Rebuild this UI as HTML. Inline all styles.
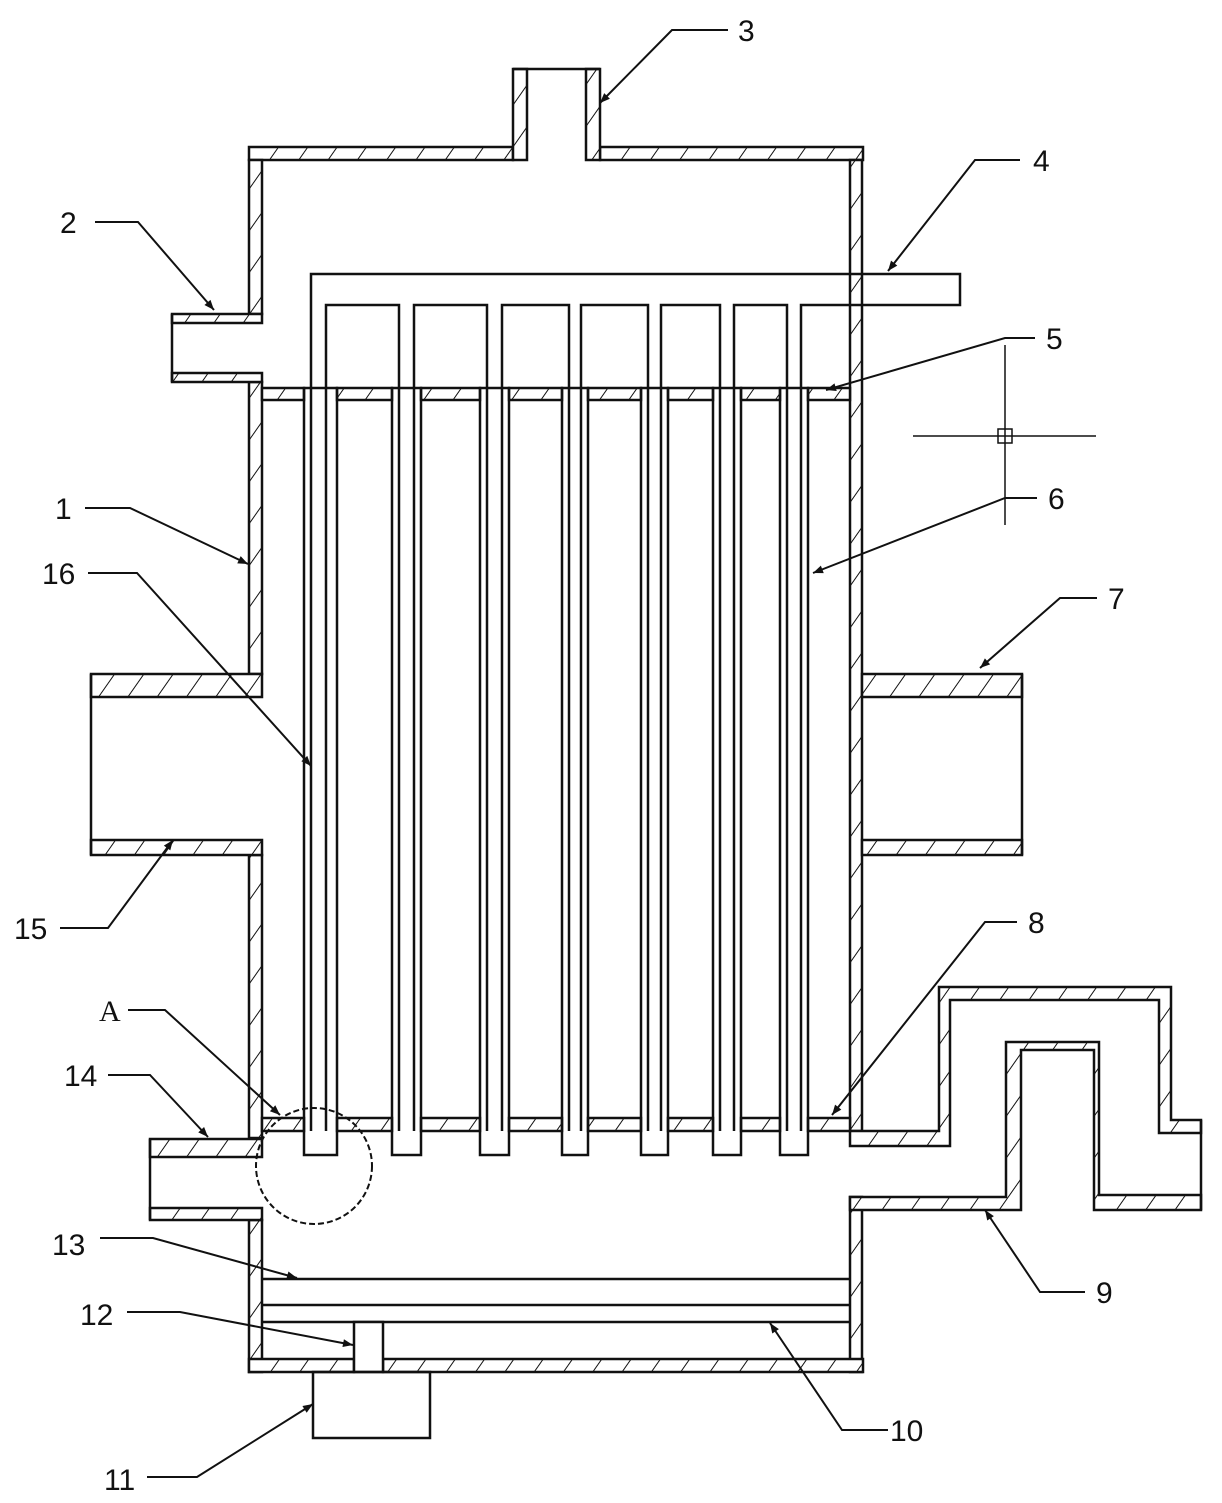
<!DOCTYPE html>
<html><head><meta charset="utf-8"><style>
html,body{margin:0;padding:0;background:#fff;}
svg{display:block;}
text{font-family:"Liberation Sans",sans-serif;font-size:30px;fill:#111;}
</style></head><body>
<svg width="1222" height="1503" viewBox="0 0 1222 1503" xmlns="http://www.w3.org/2000/svg">
<defs>
<pattern id="h" width="24" height="24" patternUnits="userSpaceOnUse" patternTransform="rotate(35)">
<rect width="24" height="24" fill="#fff"/><line x1="0" y1="0" x2="0" y2="24" stroke="#111" stroke-width="2"/>
</pattern>
<marker id="ar" viewBox="0 0 10 10" refX="10" refY="5" markerWidth="18" markerHeight="10" orient="auto" markerUnits="userSpaceOnUse">
<path d="M0,1 L10,5 L0,9 z" fill="#111"/></marker>
</defs>
<g stroke="#111" stroke-width="2.5" fill="url(#h)">
<rect x="249" y="147" width="264" height="13"/>
<rect x="600" y="147" width="263" height="13"/>
<rect x="513" y="69" width="14" height="91"/>
<rect x="586" y="69" width="14" height="91"/>
<rect x="249" y="160" width="13" height="154"/>
<rect x="249" y="382" width="13" height="292"/>
<rect x="249" y="855" width="13" height="283"/>
<rect x="249" y="1220" width="13" height="152"/>
<rect x="850" y="160" width="12" height="971"/>
<rect x="850" y="1197" width="12" height="175"/>
<rect x="249" y="1359" width="105" height="13"/>
<rect x="383" y="1359" width="480" height="13"/>
<rect x="172" y="314" width="90" height="9"/>
<rect x="172" y="373" width="90" height="9"/>
<rect x="91" y="674" width="171" height="23"/>
<rect x="91" y="840" width="171" height="15"/>
<rect x="862" y="674" width="160" height="23"/>
<rect x="862" y="840" width="160" height="15"/>
<rect x="150" y="1139" width="112" height="18"/>
<rect x="150" y="1208" width="112" height="12"/>
<path d="M850,1131 H939 V987 H1171 V1120 H1201 V1133 H1159 V1000 H950 V1146 H850 Z"/>
<path d="M850,1197 H1006 V1042 H1099 V1195 H1201 V1210 H1094 V1050 H1021 V1210 H850 Z"/>
</g>
<g stroke="#111" stroke-width="2.5" fill="none">
<line x1="513" y1="69" x2="600" y2="69"/>
<line x1="172" y1="314" x2="172" y2="382"/>
<line x1="91" y1="674" x2="91" y2="855"/>
<line x1="1022" y1="674" x2="1022" y2="855"/>
<line x1="150" y1="1139" x2="150" y2="1220"/>
<line x1="1201" y1="1120" x2="1201" y2="1210"/>
</g>
<g stroke="#111" stroke-width="2.5" fill="url(#h)">
<rect x="262" y="388" width="42" height="12"/>
<rect x="337" y="388" width="55" height="12"/>
<rect x="421" y="388" width="59" height="12"/>
<rect x="509" y="388" width="53" height="12"/>
<rect x="588" y="388" width="53" height="12"/>
<rect x="668" y="388" width="45" height="12"/>
<rect x="741" y="388" width="39" height="12"/>
<rect x="808" y="388" width="42" height="12"/>
<rect x="262" y="1118" width="42" height="13"/>
<rect x="337" y="1118" width="55" height="13"/>
<rect x="421" y="1118" width="59" height="13"/>
<rect x="509" y="1118" width="53" height="13"/>
<rect x="588" y="1118" width="53" height="13"/>
<rect x="668" y="1118" width="45" height="13"/>
<rect x="741" y="1118" width="39" height="13"/>
<rect x="808" y="1118" width="42" height="13"/>
</g>
<g stroke="#111" stroke-width="2.5" fill="none">
<rect x="304" y="388" width="33" height="767"/>
<rect x="392" y="388" width="29" height="767"/>
<rect x="480" y="388" width="29" height="767"/>
<rect x="562" y="388" width="26" height="767"/>
<rect x="641" y="388" width="27" height="767"/>
<rect x="713" y="388" width="28" height="767"/>
<rect x="780" y="388" width="28" height="767"/>
<path d="M311,1131 V274 H960 V305 H801 V1131
M326,1131 V305 H399 V1131
M414,1131 V305 H487 V1131
M502,1131 V305 H569 V1131
M581,1131 V305 H648 V1131
M661,1131 V305 H720 V1131
M734,1131 V305 H787 V1131"/>
<line x1="262" y1="1279" x2="850" y2="1279"/>
<line x1="262" y1="1305" x2="850" y2="1305"/>
<line x1="262" y1="1322" x2="850" y2="1322"/>
<rect x="354" y="1322" width="29" height="50" fill="#fff"/>
<rect x="313" y="1372" width="117" height="66"/>
<circle cx="314" cy="1166" r="58" stroke-dasharray="6,3" stroke-width="2"/>
<line x1="913" y1="436" x2="1096" y2="436" stroke-width="1.5"/>
<line x1="1005" y1="345" x2="1005" y2="525" stroke-width="1.5"/>
<rect x="998" y="429" width="14" height="14" stroke-width="1.5"/>
</g>
<g stroke="#111" stroke-width="2" fill="none" marker-end="url(#ar)">
<polyline points="728,30 672,30 600,103"/>
<polyline points="1020,160 975,160 888,271"/>
<polyline points="95,222 138,222 214,310"/>
<polyline points="1035,338 1005,338 826,390"/>
<polyline points="1037,498 1005,498 813,573"/>
<polyline points="85,508 130,508 248,564"/>
<polyline points="88,573 137,573 311,766"/>
<polyline points="1097,598 1060,598 980,668"/>
<polyline points="60,928 108,928 173,840"/>
<polyline points="1017,922 985,922 832,1115"/>
<polyline points="128,1010 165,1010 280,1115"/>
<polyline points="108,1075 150,1075 208,1137"/>
<polyline points="100,1238 153,1238 297,1278"/>
<polyline points="127,1312 180,1312 353,1345"/>
<polyline points="1085,1292 1040,1292 985,1210"/>
<polyline points="888,1430 842,1430 770,1323"/>
<polyline points="147,1477 197,1477 313,1404"/>
</g>
<g>
<text x="738" y="41">3</text>
<text x="1033" y="171">4</text>
<text x="60" y="233">2</text>
<text x="1046" y="349">5</text>
<text x="1048" y="509">6</text>
<text x="55" y="519">1</text>
<text x="42" y="584">16</text>
<text x="1108" y="609">7</text>
<text x="14" y="939">15</text>
<text x="1028" y="933">8</text>
<text x="99" y="1021" style="font-family:'Liberation Serif',serif">A</text>
<text x="64" y="1086">14</text>
<text x="52" y="1255">13</text>
<text x="80" y="1325">12</text>
<text x="1096" y="1303">9</text>
<text x="890" y="1441">10</text>
<text x="104" y="1490">11</text>
</g>
</svg>
</body></html>
